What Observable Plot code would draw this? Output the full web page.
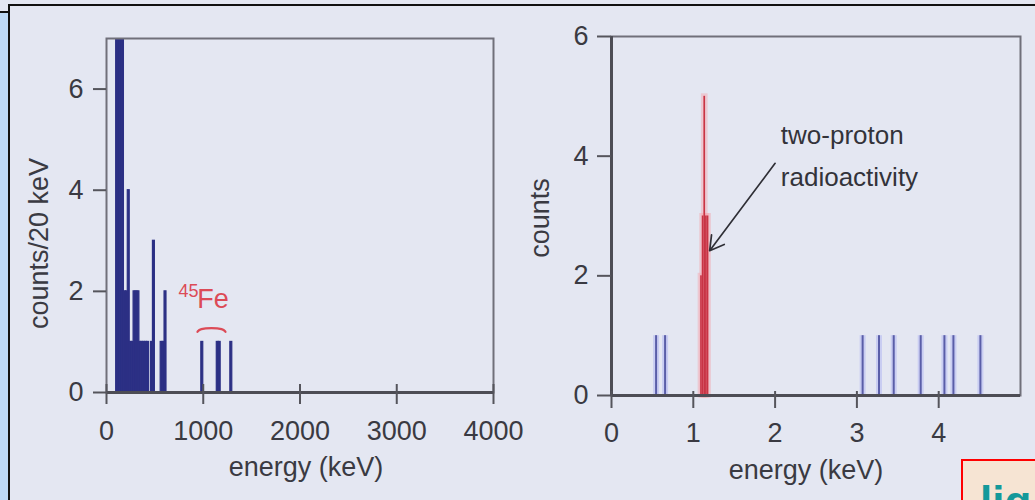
<!DOCTYPE html>
<html><head><meta charset="utf-8">
<script src="https://cdn.jsdelivr.net/npm/d3@7"></script>
<script src="https://cdn.jsdelivr.net/npm/@observablehq/plot@0.6"></script>
<style>
html,body{margin:0;padding:0;width:1035px;height:500px;overflow:hidden;background:#e4e7f2;font-family:"Liberation Sans",Arial,sans-serif;}
#strip{position:absolute;left:0;top:11px;width:9px;height:489px;background:#bcd8f6;border-top:2px solid #111;box-sizing:border-box;}
#box{position:absolute;left:8px;top:4px;width:1040px;height:510px;border-left:2px solid #111;border-top:2px solid #111;box-sizing:border-box;}
#left{position:absolute;left:0;top:0;}
#right{position:absolute;left:520px;top:0;}
#note{position:absolute;left:961px;top:459px;width:100px;height:60px;background:#f6e4d3;border:2px solid #f00;box-sizing:border-box;overflow:hidden;}
#note span{position:absolute;left:17px;top:16px;line-height:1;font:bold 44px "Liberation Sans",Arial,sans-serif;color:#14999a;}
</style></head>
<body>
<div id="strip"></div><div id="box"></div>
<div id="left"></div><div id="right"></div>
<div id="note"><span>lig</span></div>
<script>
// ---------- data: left panel (45Fe implantation spectrum) ----------
const leftBinWidth = 20; // keV
const leftBinStart = [100,120,140,160,180,200,220,240,260,280,300,320,340,360,380,400,420,460,480,560,580,600,980,1140,1160,1280];
const leftCounts   = [12, 10, 9, 8, 2, 2, 4, 1, 1, 2, 2, 2, 1, 1, 1, 1, 1, 1, 3, 1, 1, 2, 1, 1, 1, 1];
const leftXTicks = [0, 1000, 2000, 3000, 4000];
const leftYTicks = [0, 2, 4, 6];
const feSup = [{x: 744, y: 1.89, t: "45"}];
const feMain = [{x: 937, y: 1.67, t: "Fe"}];
const feBracketX = [940, 965, 1085, 1205, 1230];
const feBracketY = [1.2, 1.26, 1.28, 1.26, 1.2];

// ---------- data: right panel (decay energy spectrum) ----------
const blueEnergies = [0.545, 0.655, 3.07, 3.27, 3.45, 3.78, 4.07, 4.18, 4.51];
const blueCounts   = [1, 1, 1, 1, 1, 1, 1, 1, 1];
const redBinWidth = 0.02; // keV
const redBinStart = [1.09, 1.11, 1.13, 1.15, 1.17];
const redCounts   = [2, 3, 5, 3, 3];
const rightXTicks = [0, 1, 2, 3, 4];
const rightYTicks = [0, 2, 4, 6];
const noteLines = [{x: 2.07, y: 4.2, t: "two-proton"}, {x: 2.07, y: 3.5, t: "radioactivity"}];
const arrowData = [{x1: 2.0, y1: 3.88, x2: 1.2, y2: 2.42}];

// ---------- styles ----------
const navy = "#2c3085";
const feRed = "#dc4b57";
const txt = "#3a3a42";
const font = "'Liberation Sans', Arial, sans-serif";

const leftData = leftBinStart.map((s, i) => ({x1: s, x2: s + leftBinWidth, y: leftCounts[i]}));
const blueData = blueEnergies.map((e, i) => ({x: e, y: blueCounts[i]}));
const redData = redBinStart.map((s, i) => ({x1: s, x2: s + redBinWidth, y: redCounts[i]}));
const bracket = feBracketX.map((x, i) => ({x, y: feBracketY[i]}));

const left = Plot.plot({
  width: 520, height: 500,
  marginLeft: 106, marginRight: 27, marginTop: 38, marginBottom: 108,
  style: {background: "transparent", fontFamily: font, fontSize: "27px", color: txt, overflow: "visible"},
  x: {domain: [0, 4000]},
  y: {domain: [0, 7]},
  marks: [
    Plot.rectY(leftData, {x1: "x1", x2: "x2", y: "y", fill: navy, stroke: navy, strokeWidth: 1.2, clip: true}),
    Plot.frame({stroke: "#70707a", strokeWidth: 2}),
    Plot.ruleY([0], {stroke: "#4d4d55", strokeWidth: 3}),
    Plot.axisY({ticks: leftYTicks, tickFormat: "d", tickSize: 13, tickPadding: 10, label: null, stroke: "#55555c", strokeWidth: 2}),
    Plot.axisX({ticks: leftXTicks, tickFormat: "d", tickSize: 20, dy: -8, tickPadding: 16, label: null, stroke: "#55555c", strokeWidth: 2}),
    Plot.text(["counts/20 keV"], {frameAnchor: "left", textAnchor: "middle", lineAnchor: "middle", rotate: -90, dx: -67, dy: 28, fontSize: 27, fill: txt}),
    Plot.text(["energy (keV)"], {frameAnchor: "bottom", dx: 6, dy: 83, fontSize: 27, fill: txt}),
    Plot.text(feSup, {x: "x", y: "y", text: "t", textAnchor: "start", lineAnchor: "bottom", fontSize: 18, fill: feRed}),
    Plot.text(feMain, {x: "x", y: "y", text: "t", textAnchor: "start", lineAnchor: "bottom", fontSize: 27, fill: feRed}),
    Plot.line(bracket, {x: "x", y: "y", stroke: feRed, strokeWidth: 2.2, curve: "basis"})
  ]
});
document.getElementById("left").append(left);

const right = Plot.plot({
  width: 515, height: 500,
  marginLeft: 91, marginRight: 15, marginTop: 36, marginBottom: 105,
  style: {background: "transparent", fontFamily: font, fontSize: "27px", color: txt, overflow: "visible"},
  x: {domain: [0, 5]},
  y: {domain: [0, 6]},
  marks: [
    Plot.ruleX(blueData, {x: "x", y1: 0, y2: "y", stroke: "#c9cdf2", strokeWidth: 6}),
    Plot.ruleX(blueData, {x: "x", y1: 0, y2: "y", stroke: "#5a5ea8", strokeWidth: 2}),
    Plot.rectY(redData, {x1: "x1", x2: "x2", y: "y", fill: "#f3aab2", stroke: "#f3aab2", strokeWidth: 5, strokeOpacity: 0.5}),
    Plot.rectY(redData, {x1: "x1", x2: "x2", y: "y", fill: "#c83445"}),
    Plot.frame({stroke: "#70707a", strokeWidth: 2}),
    Plot.ruleY([0], {stroke: "#4d4d55", strokeWidth: 3}),
    Plot.ruleX([0], {stroke: "#4d4d55", strokeWidth: 3}),
    Plot.axisY({ticks: rightYTicks, tickFormat: "d", tickSize: 14, tickPadding: 9, label: null, stroke: "#55555c", strokeWidth: 2}),
    Plot.axisX({ticks: rightXTicks, tickFormat: "d", tickSize: 17, dy: -4, tickPadding: 14, label: null, stroke: "#55555c", strokeWidth: 2}),
    Plot.text(["counts"], {frameAnchor: "left", textAnchor: "middle", lineAnchor: "middle", rotate: -90, dx: -71, dy: 2, fontSize: 27, fill: txt}),
    Plot.text(["energy (keV)"], {frameAnchor: "bottom", dx: -10, dy: 83, fontSize: 27, fill: txt}),
    Plot.text(noteLines, {x: "x", y: "y", text: "t", textAnchor: "start", lineAnchor: "bottom", fontSize: 26, fill: "#33333a"}),
    Plot.arrow(arrowData, {x1: "x1", y1: "y1", x2: "x2", y2: "y2", stroke: "#2f2f36", strokeWidth: 1.7, headLength: 14})
  ]
});
document.getElementById("right").append(right);
</script>
</body></html>
